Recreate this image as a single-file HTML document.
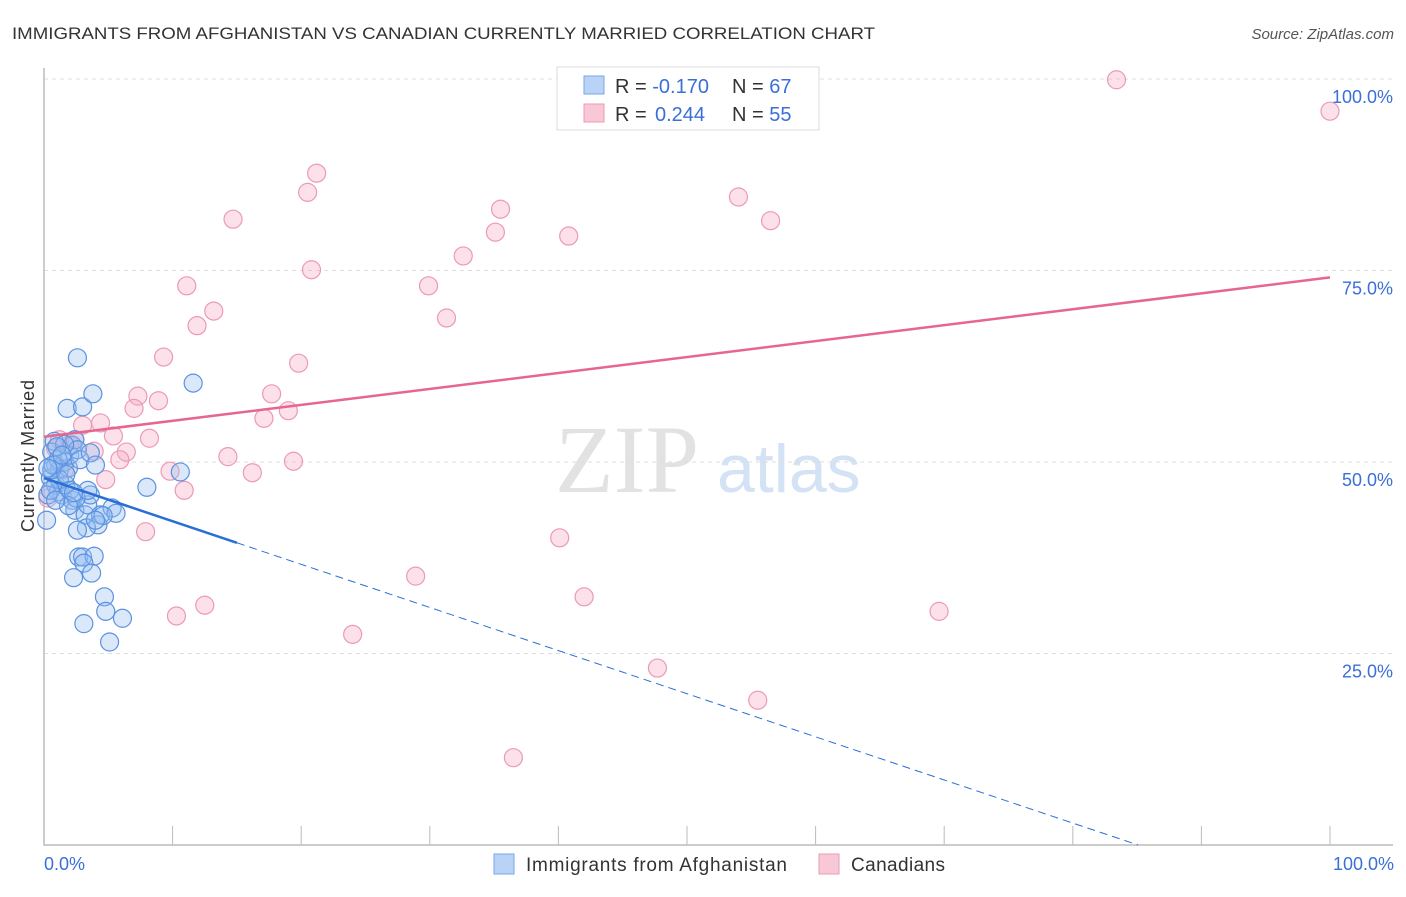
<!DOCTYPE html>
<html><head><meta charset="utf-8"><style>
body{margin:0;background:#fff;font-family:"Liberation Sans",sans-serif}
</style></head><body>
<svg id="c" width="1406" height="892" xmlns="http://www.w3.org/2000/svg" font-family="Liberation Sans, sans-serif">
<text x="12" y="39" font-size="17" fill="#333" textLength="863" lengthAdjust="spacingAndGlyphs">IMMIGRANTS FROM AFGHANISTAN VS CANADIAN CURRENTLY MARRIED CORRELATION CHART</text>
<text x="1394" y="39" font-size="15" fill="#555" font-style="italic" text-anchor="end">Source: ZipAtlas.com</text>
<text x="555" y="492" font-size="96" fill="#e2e2e2" font-family="Liberation Serif, serif">ZIP</text>
<text x="717" y="492" font-size="68" fill="#d3e2f5">atlas</text>
<g id="grid"></g>
<g id="pts"></g>
<text transform="translate(34,456) rotate(-90)" font-size="18" fill="#333" text-anchor="middle" textLength="152">Currently Married</text>
<text x="44" y="870" font-size="18" fill="#3a6fd8">0.0%</text>
<text x="1394" y="870" font-size="18" fill="#3a6fd8" text-anchor="end">100.0%</text>
<g>
<rect x="557" y="67" width="262" height="63" fill="#fff" stroke="#ddd"/>
<rect x="584" y="76" width="20" height="18" fill="#b9d3f7" stroke="#7aa6e6"/>
<rect x="584" y="104" width="20" height="18" fill="#f9c8d7" stroke="#ee9ab3"/>
<text x="615" y="93" font-size="20" fill="#333">R = <tspan fill="#3a6fd8">-0.170</tspan><tspan x="732">N = </tspan><tspan fill="#3a6fd8">67</tspan></text>
<text x="615" y="121" font-size="20" fill="#333">R = <tspan fill="#3a6fd8" x="655">0.244</tspan><tspan x="732">N = </tspan><tspan fill="#3a6fd8">55</tspan></text>
</g>
<g>
<rect x="494" y="854" width="20" height="20" fill="#b9d3f7" stroke="#7aa6e6"/>
<text x="526" y="871" font-size="19" fill="#333" textLength="261">Immigrants from Afghanistan</text>
<rect x="819" y="854" width="20" height="20" fill="#f9c8d7" stroke="#ee9ab3"/>
<text x="851" y="871" font-size="19" fill="#333" textLength="94">Canadians</text>
</g>
</svg>
<script>
const yTicks=[25,50,75,100];
const yTickLabels=["25.0%","50.0%","75.0%","100.0%"];
const xTicks=[10,20,30,40,50,60,70,80,90,100];
const blueX=[2.6,1.8,3.0,3.8,11.6,10.6,8.0,0.8,0.6,0.9,1.2,1.6,1.9,2.0,2.2,2.4,2.6,2.8,3.6,4.0,0.5,0.9,1.1,1.4,0.3,1.7,2.2,2.4,3.2,3.4,3.6,4.4,4.2,5.3,5.6,3.3,2.6,2.7,3.0,3.9,3.1,3.7,2.3,4.7,4.8,6.1,3.1,5.1,0.2,1.2,0.6,1.1,1.7,2.0,2.5,1.6,1.0,0.5,0.7,1.4,0.3,1.9,4.6,3.4,2.3,0.9,4.0];
const blueY=[63.6,57.0,57.2,58.9,60.3,48.7,46.7,52.7,51.3,49.6,49.0,50.0,49.2,50.9,52.2,52.9,51.6,50.3,51.2,49.6,47.9,47.0,46.1,45.7,45.7,47.0,45.0,43.7,43.1,44.4,45.7,43.1,41.8,44.0,43.3,41.4,41.1,37.6,37.6,37.7,36.8,35.5,34.9,32.4,30.5,29.6,28.9,26.5,42.4,47.7,49.0,50.3,48.4,46.3,45.3,52.3,52.0,46.3,49.6,50.9,49.2,44.3,43.0,46.3,46.0,45.0,42.4];
const pinkX=[83.4,100,21.2,20.5,54.0,56.5,14.7,35.5,35.1,40.8,32.6,20.8,11.1,29.9,13.2,11.9,31.3,9.3,19.8,17.7,7.3,7.0,8.9,19.0,17.1,8.2,4.4,3.0,5.4,1.2,2.0,2.4,3.9,6.4,5.9,14.3,19.4,9.8,16.2,4.8,10.9,7.9,40.1,28.9,42.0,12.5,10.3,69.6,24.0,47.7,55.5,36.5,0.9,0.3,1.6];
const pinkY=[99.9,95.8,87.7,85.2,84.6,81.5,81.7,83.0,80.0,79.5,76.9,75.1,73.0,73.0,69.7,67.8,68.8,63.7,62.9,58.9,58.6,57.0,58.0,56.7,55.7,53.1,55.1,54.8,53.4,52.9,52.2,52.9,51.4,51.3,50.3,50.7,50.1,48.8,48.6,47.7,46.3,40.9,40.1,35.1,32.4,31.3,29.9,30.5,27.5,23.1,18.9,11.4,51.8,45.3,49.0];
const pinkTrend=[53.3,74.1];
const blueTrend=[47.9,-0.563];
const X=v=>44+v*12.86, Y=v=>845-v*7.66;
const NS="http://www.w3.org/2000/svg";
function mk(t,a,p){const e=document.createElementNS(NS,t);for(const k in a)e.setAttribute(k,a[k]);p.appendChild(e);return e;}
const g=document.getElementById('grid'),P=document.getElementById('pts');
yTicks.forEach((t,i)=>{
 const l=mk('line',{x1:44,x2:1393,y1:Y(t),y2:Y(t),stroke:'#ddd','stroke-dasharray':'4,4'},g);
 
 
 const tx=mk('text',{x:1393,y:Y(t)+24,'font-size':18,fill:'#3a6fd8','text-anchor':'end'},g);
 tx.textContent=yTickLabels[i];
 
 
});
xTicks.forEach(t=>{
 const l=mk('line',{x1:X(t),x2:X(t),y1:826,y2:845,stroke:'#bbb'},g);
 
 
});
const ax=mk('path',{d:'M44 68V845H1393',fill:'none',stroke:'#bbb','stroke-width':1.5},g);


pinkX.forEach((x,i)=>{
 const c=mk('circle',{cx:X(x),cy:Y(pinkY[i]),r:9,fill:'rgba(246,170,195,0.35)',stroke:'#ec9ab4','stroke-width':1.2},P);
 
 
});
blueX.forEach((x,i)=>{
 const c=mk('circle',{cx:X(x),cy:Y(blueY[i]),r:9,fill:'rgba(150,190,240,0.35)',stroke:'#5b92e0','stroke-width':1.2},P);
 
 
});
const pl=mk('line',{x1:X(0),y1:Y(pinkTrend[0]),x2:X(100),y2:Y(pinkTrend[1]),stroke:'#e5678f','stroke-width':2.5},P);


const bEnd=15, bZero=-blueTrend[0]/blueTrend[1];
const bl=mk('line',{x1:X(0),y1:Y(blueTrend[0]),x2:X(bEnd),y2:Y(blueTrend[0]+blueTrend[1]*bEnd),stroke:'#2a6fd6','stroke-width':2.5},P);


const bd=mk('line',{x1:X(bEnd),y1:Y(blueTrend[0]+blueTrend[1]*bEnd),x2:X(bZero),y2:Y(0),stroke:'#2a6fd6','stroke-width':1,'stroke-dasharray':'8,5'},P);


</script>
</body></html>
